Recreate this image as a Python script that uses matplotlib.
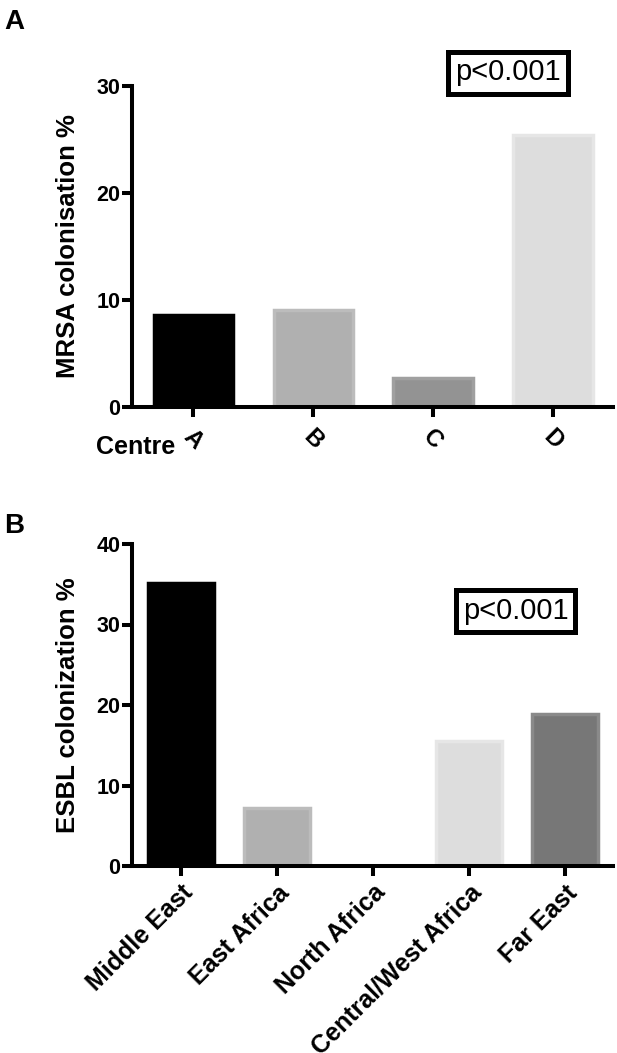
import matplotlib
matplotlib.use("Agg")
import matplotlib.pyplot as plt

plt.rcParams['font.family'] = ['Liberation Sans', 'DejaVu Sans']

# panel A: MRSA colonisation by centre
centres = ['A', 'B', 'C', 'D']
mrsa_pct = [8.6, 9.1, 2.7, 25.4]
mrsa_fill = ['#000000', '#b0b0b0', '#939393', '#dddddd']
mrsa_edge = ['#000000', '#bcbcbc', '#a0a0a0', '#e6e6e6']

# panel B: ESBL colonization by region
regions = ['Middle East', 'East Africa', 'North Africa', 'Central/West Africa', 'Far East']
esbl_pct = [35.1, 7.2, 0.0, 15.5, 18.9]
esbl_fill = ['#000000', '#b0b0b0', '#ffffff', '#dddddd', '#777777']
esbl_edge = ['#000000', '#bcbcbc', '#ffffff', '#e6e6e6', '#8a8a8a']

W, H = 617, 1053
fig = plt.figure(figsize=(W / 100, H / 100), dpi=100)


def style_axes(ax):
    for s in ['top', 'right']:
        ax.spines[s].set_visible(False)
    for s in ['left', 'bottom']:
        ax.spines[s].set_linewidth(2.9)
    ax.tick_params(width=2.9, length=7.5, direction='out')
    ax.tick_params(axis='y', labelsize=15.5, pad=1)
    for lab in ax.get_yticklabels():
        lab.set_fontweight('bold')


# ---- panel A
axA = fig.add_axes([132 / W, 1 - 407 / H, (613 - 132) / W, (407 - 86) / H])
axA.bar(range(len(centres)), mrsa_pct, width=0.66, color=mrsa_fill,
        edgecolor=mrsa_edge, linewidth=2.5)
axA.set_xlim(-0.51, 3.5)
axA.set_ylim(0, 30)
axA.set_yticks([0, 10, 20, 30])
axA.set_xticks(range(len(centres)))
axA.set_xticklabels(centres, rotation=-45, ha='center', va='top',
                    fontsize=17, fontweight='bold')
axA.tick_params(axis='x', pad=6)
style_axes(axA)
axA.set_ylabel('MRSA colonisation %', fontsize=18.5, fontweight='bold')
axA.yaxis.set_label_coords(-0.108, 0.5)

fig.text(136 / W, 1 - 447 / H, 'Centre', fontsize=18, fontweight='bold',
         ha='center', va='center')
fig.text(4 / W, 1 - 22 / H, 'A', fontsize=20, fontweight='bold', ha='left', va='center')
fig.text(508 / W, 1 - 72.5 / H, 'p<0.001', fontsize=21, ha='center', va='center',
         bbox=dict(boxstyle='square,pad=0.24', fc='white', ec='black', lw=3.6))

# ---- panel B
axB = fig.add_axes([132 / W, 1 - 866 / H, (613 - 132) / W, (866 - 544) / H])
axB.bar(range(len(regions)), esbl_pct, width=0.68, color=esbl_fill,
        edgecolor=esbl_edge, linewidth=2.5)
axB.set_xlim(-0.51, 4.5)
axB.set_ylim(0, 40)
axB.set_yticks([0, 10, 20, 30, 40])
axB.set_xticks(range(len(regions)))
axB.set_xticklabels(regions, rotation=45, ha='right', rotation_mode='anchor',
                    fontsize=18, fontweight='bold')
axB.tick_params(axis='x', pad=3)
style_axes(axB)
axB.set_ylabel('ESBL colonization %', fontsize=18.5, fontweight='bold')
axB.yaxis.set_label_coords(-0.108, 0.5)

fig.text(4 / W, 1 - 526 / H, 'B', fontsize=20, fontweight='bold', ha='left', va='center')
fig.text(515.5 / W, 1 - 611 / H, 'p<0.001', fontsize=21, ha='center', va='center',
         bbox=dict(boxstyle='square,pad=0.24', fc='white', ec='black', lw=3.6))

fig.savefig('out.png', dpi=100)
